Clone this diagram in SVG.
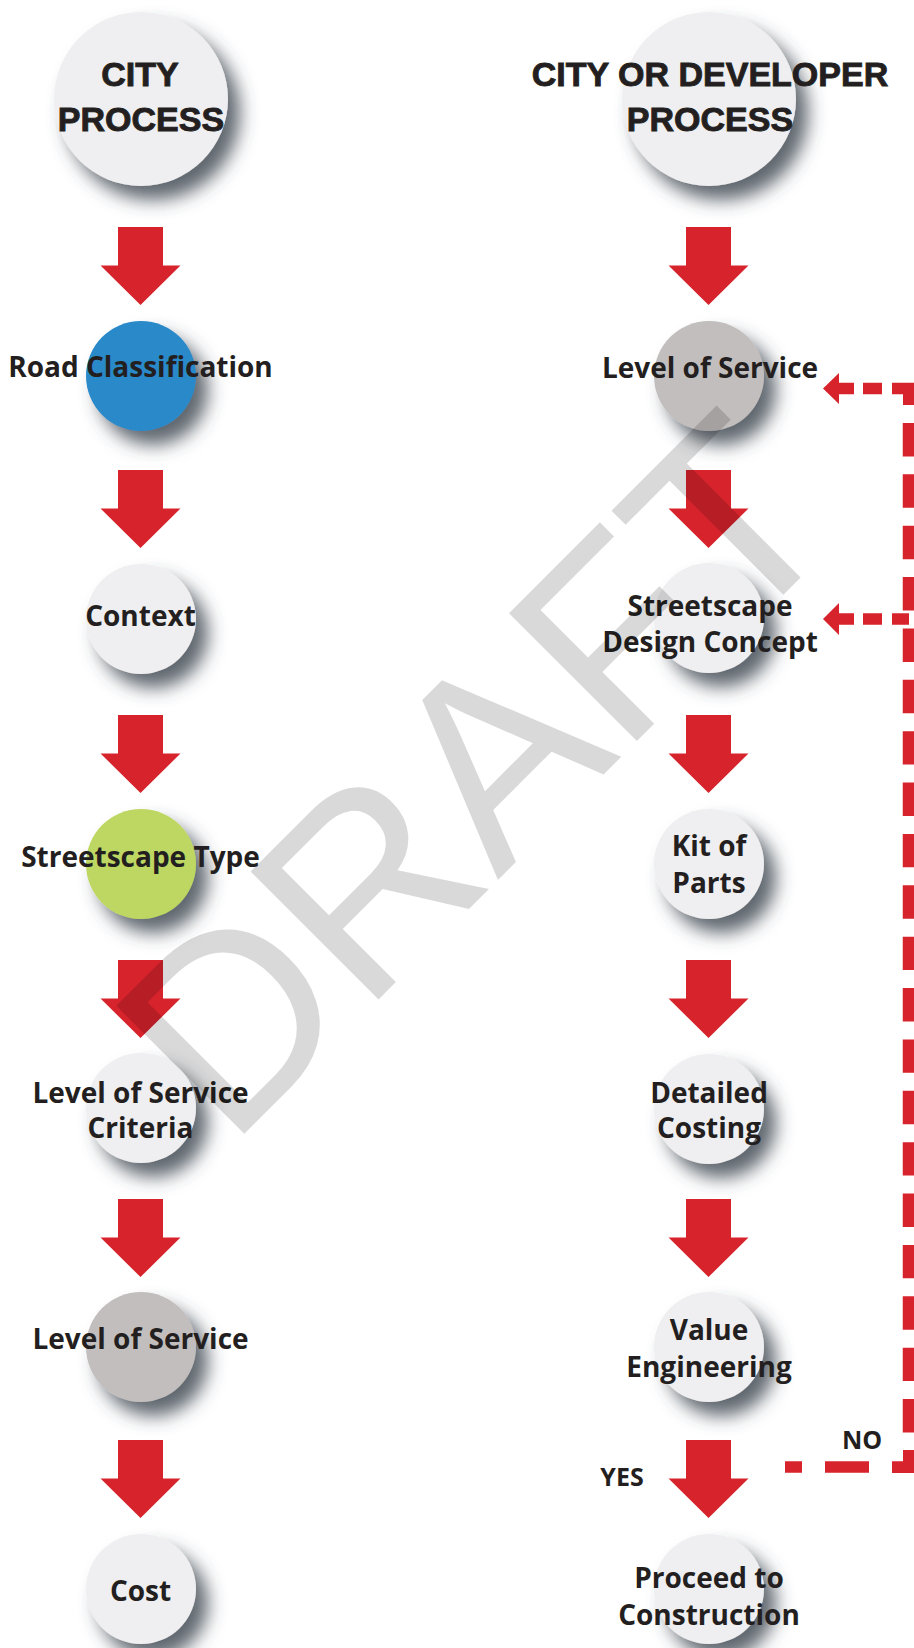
<svg xmlns="http://www.w3.org/2000/svg" width="914" height="1648" viewBox="0 0 914 1648">
  <defs>
    <!-- soft drop shadow to the lower right of each disc -->
    <filter id="shadow" x="-50%" y="-50%" width="200%" height="200%">
      <feGaussianBlur in="SourceAlpha" stdDeviation="9"/>
      <feOffset dx="12" dy="14" result="blur"/>
      <feFlood flood-color="#3d4650" flood-opacity="0.82"/>
      <feComposite in2="blur" operator="in"/>
      <feMerge><feMergeNode/><feMergeNode in="SourceGraphic"/></feMerge>
    </filter>
    <!-- block arrow, origin at top centre of the shaft -->
    <path id="down" d="M-22.5,0 H22.5 V38.5 H40 L0,78 L-40,38.5 H-22.5 Z"/>
  </defs>
  <style>
    .lbl{font-family:"Open Sans","Liberation Sans",sans-serif;font-weight:700;font-size:28px;fill:#231f20;text-anchor:middle}
    .hdr{font-family:"Liberation Sans",Arial,sans-serif;font-weight:700;font-size:34px;fill:#231f20;stroke:#231f20;stroke-width:0.9;text-anchor:middle}
    .tag{font-family:"Open Sans","Liberation Sans",sans-serif;font-weight:700;font-size:25px;fill:#231f20;text-anchor:middle}
    .red{fill:#d7232b}
    .dash{stroke:#d7232b;stroke-width:11.5;fill:none}
    .disc{filter:url(#shadow)}
    .light{fill:#efeef0}
    .blue{fill:#2b89c9}
    .green{fill:#bdd762}
    .grey{fill:#c2bebd}
    .mark{font-family:"Liberation Sans",Arial,sans-serif;font-size:263px;fill:#000;fill-opacity:0.15}
  </style>

  <rect width="914" height="1648" fill="#ffffff"/>

  <!-- column headers -->
  <g id="city-process">
    <circle class="disc light" cx="141" cy="99" r="87"/>
    <text class="hdr" x="140" y="86">CITY</text>
    <text class="hdr" x="141" y="131">PROCESS</text>
  </g>
  <g id="city-or-developer-process">
    <circle class="disc light" cx="709" cy="99" r="87"/>
    <text class="hdr" x="710" y="86">CITY OR DEVELOPER</text>
    <text class="hdr" x="710" y="131">PROCESS</text>
  </g>

  <!-- left column -->
  <g id="road-classification">
    <circle class="disc blue" cx="141" cy="376" r="55"/>
    <text class="lbl" x="140.5" y="377">Road Classification</text>
  </g>
  <g id="context">
    <circle class="disc light" cx="141" cy="619" r="55"/>
    <text class="lbl" x="140.5" y="626">Context</text>
  </g>
  <g id="streetscape-type">
    <circle class="disc green" cx="141" cy="864" r="55"/>
    <text class="lbl" x="140.5" y="867">Streetscape Type</text>
  </g>
  <g id="level-of-service-criteria">
    <circle class="disc light" cx="141" cy="1108" r="55"/>
    <text class="lbl" x="140.5" y="1103">Level of Service</text>
    <text class="lbl" x="140.5" y="1138">Criteria</text>
  </g>
  <g id="level-of-service-left">
    <circle class="disc grey" cx="141" cy="1347" r="55"/>
    <text class="lbl" x="140.5" y="1349">Level of Service</text>
  </g>
  <g id="cost">
    <circle class="disc light" cx="141" cy="1589" r="55"/>
    <text class="lbl" x="140.5" y="1601">Cost</text>
  </g>

  <!-- right column -->
  <g id="level-of-service-right">
    <circle class="disc grey" cx="709" cy="376" r="55"/>
    <text class="lbl" x="710" y="378">Level of Service</text>
  </g>
  <g id="streetscape-design-concept">
    <circle class="disc light" cx="709" cy="618" r="55"/>
    <text class="lbl" x="710" y="616">Streetscape</text>
    <text class="lbl" x="710" y="652">Design Concept</text>
  </g>
  <g id="kit-of-parts">
    <circle class="disc light" cx="709" cy="864" r="55"/>
    <text class="lbl" x="709" y="856">Kit of</text>
    <text class="lbl" x="709" y="893">Parts</text>
  </g>
  <g id="detailed-costing">
    <circle class="disc light" cx="709" cy="1109" r="55"/>
    <text class="lbl" x="709" y="1103">Detailed</text>
    <text class="lbl" x="709" y="1138">Costing</text>
  </g>
  <g id="value-engineering">
    <circle class="disc light" cx="709" cy="1347" r="55"/>
    <text class="lbl" x="709" y="1340">Value</text>
    <text class="lbl" x="709" y="1377">Engineering</text>
  </g>
  <g id="proceed-to-construction">
    <circle class="disc light" cx="709" cy="1589" r="55"/>
    <text class="lbl" x="709" y="1588">Proceed to</text>
    <text class="lbl" x="709" y="1625">Construction</text>
  </g>

  <!-- connectors -->
  <g id="connectors">
    <g class="red">
      <use href="#down" x="140.5" y="227"/>
      <use href="#down" x="140.5" y="470"/>
      <use href="#down" x="140.5" y="715"/>
      <use href="#down" x="140.5" y="960"/>
      <use href="#down" x="140.5" y="1199"/>
      <use href="#down" x="140.5" y="1440"/>
      <use href="#down" x="708.5" y="227"/>
      <use href="#down" x="708.5" y="470"/>
      <use href="#down" x="708.5" y="715"/>
      <use href="#down" x="708.5" y="960"/>
      <use href="#down" x="708.5" y="1199"/>
      <use href="#down" x="708.5" y="1440"/>
    </g>

    <!-- "NO" feedback loop -->
    <g id="feedback">
      <!-- bottom run out of the decision -->
      <line class="dash" x1="785" y1="1467" x2="802" y2="1467"/>
      <line class="dash" x1="825" y1="1467" x2="869" y2="1467"/>
      <path class="red" d="M892,1461.25 H914 V1473 H892 Z M903,1450 H914 V1473 H903 Z"/>
      <!-- vertical return -->
      <line class="dash" x1="908.5" y1="423" x2="908.5" y2="1432.4" stroke-width="11" stroke-dasharray="33.4 17.97"/>
      <!-- top corner -->
      <path class="red" d="M892,382.75 H914 V394.25 H892 Z M903,382.75 H914 V405 H903 Z"/>
      <!-- branch back to Level of Service -->
      <line class="dash" x1="863" y1="388.5" x2="882" y2="388.5"/>
      <path class="red" d="M823,388.5 L839,373 V382.75 H854 V394.25 H839 V404 Z"/>
      <!-- branch back to Streetscape Design Concept -->
      <line class="dash" x1="892" y1="619" x2="909" y2="619"/>
      <line class="dash" x1="863" y1="619" x2="882" y2="619"/>
      <path class="red" d="M823,619 L839,603 V613.25 H854 V624.75 H839 V635 Z"/>
    </g>
  </g>

  <text class="tag" x="622" y="1486">YES</text>
  <text class="tag" x="862" y="1449">NO</text>

  <!-- watermark -->
  <text class="mark" transform="translate(229,1149) rotate(-45)">DRAFT</text>
</svg>
